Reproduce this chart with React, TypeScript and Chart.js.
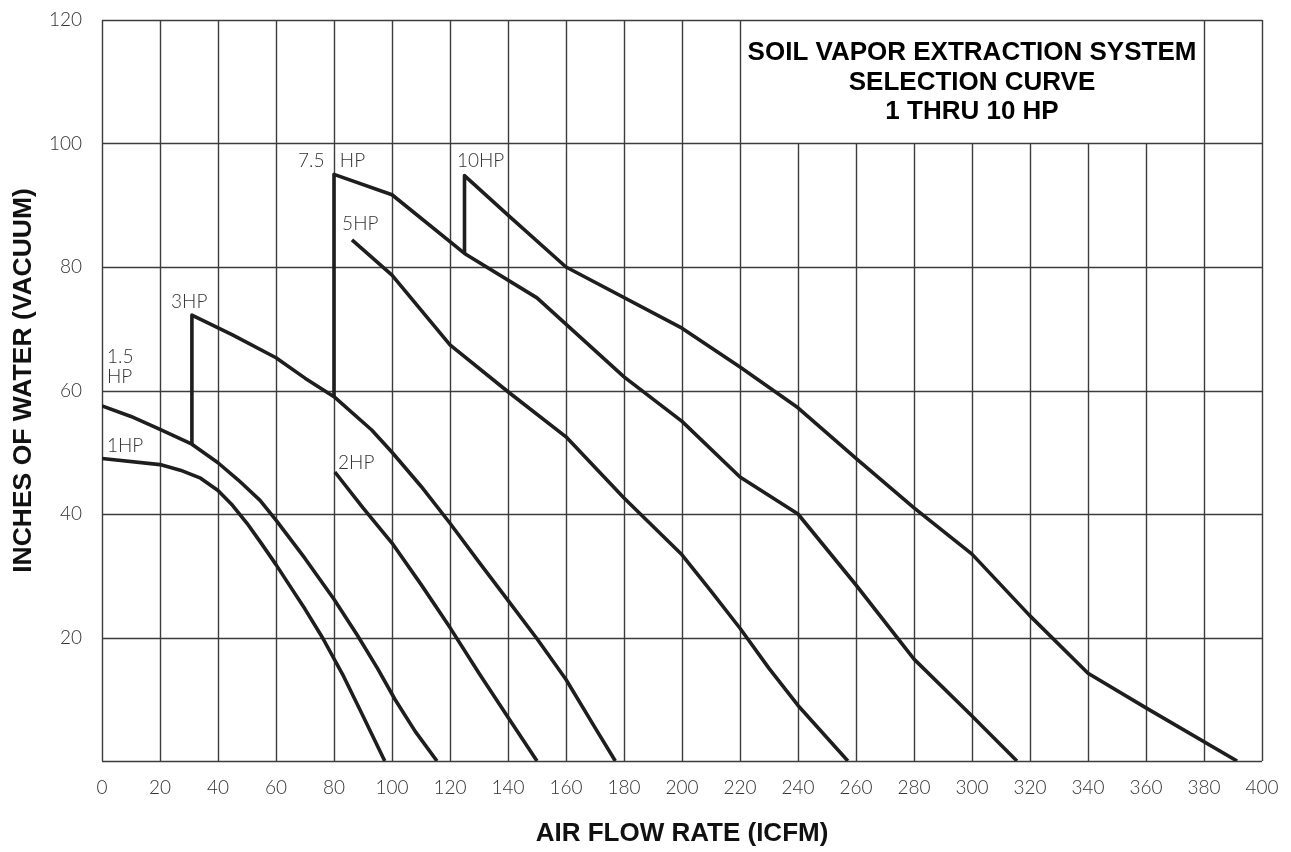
import React, { useEffect, useRef } from "react";
import { Chart, registerables } from "chart.js";

Chart.register(...registerables);

// Axis ticks
const FLOW_TICKS = [0, 20, 40, 60, 80, 100, 120, 140, 160, 180, 200, 220, 240, 260, 280, 300, 320, 340, 360, 380, 400];
const VAC_TICKS = [0, 20, 40, 60, 80, 100, 120];

// Title box (in data units)
const BOX_FLOW = [220, 380];
const BOX_VAC = [100, 120];
const TITLE_LINES = ["SOIL VAPOR EXTRACTION SYSTEM", "SELECTION CURVE", "1 THRU 10 HP"];
const Y_TITLE = "INCHES OF WATER (VACUUM)";
const X_TITLE = "AIR FLOW RATE (ICFM)";

// Curves: [air flow (ICFM), inches of water]
const HP1 = [[0, 49], [20, 48], [27, 47.1], [34, 45.8], [40, 43.8], [45, 41.4], [50, 38.5], [55, 35.2], [60, 31.8], [65, 28.2], [70, 24.6], [76, 20], [83, 14], [90, 7.3], [97.5, 0]];
const HP1_5 = [[0, 57.5], [10, 55.8], [20, 53.7], [31, 51.3], [40, 48.3], [47, 45.5], [54.5, 42.2], [60, 39], [70, 32.8], [80, 26.2], [88, 20.4], [95, 15], [101, 10], [108, 4.8], [115.5, 0]];
const HP3 = [[31, 51.3], [31, 72.2], [45, 69], [60, 65.3], [70, 62], [80, 59], [93, 53.6], [100, 50], [110, 44.5], [120, 38.5], [130, 32.2], [140, 26], [150, 19.8], [160, 13.2], [170, 5.4], [177, 0]];
const HP2 = [[80.3, 46.8], [90, 41], [100, 35.3], [110, 28.6], [120, 21.6], [130, 14.2], [140, 7.1], [150, 0]];
const HP5 = [[86.2, 84.4], [100, 78.7], [120, 67.4], [140, 59.8], [160, 52.5], [180, 42.6], [200, 33.4], [210, 27.5], [220, 21.5], [230, 15], [240, 9], [257.2, 0]];
const HP7_5 = [[80, 59], [80, 95], [100, 91.7], [125, 82.2], [150, 75], [180, 62.2], [200, 55], [220, 46], [240, 40], [260, 28.5], [280, 16.5], [300, 7.3], [315.5, 0]];
const HP10 = [[125, 82.2], [125, 94.8], [140, 88.4], [160, 80], [200, 70.1], [220, 63.8], [240, 57.2], [260, 49], [280, 41], [300, 33.5], [320, 23.5], [340, 14.2], [360, 8.6], [391.4, 0]];

const SERIES = [
  { name: "1HP", pts: HP1 },
  { name: "1.5HP", pts: HP1_5 },
  { name: "3HP", pts: HP3 },
  { name: "2HP", pts: HP2 },
  { name: "5HP", pts: HP5 },
  { name: "7.5HP", pts: HP7_5 },
  { name: "10HP", pts: HP10 },
];

// Curve labels: [text, flow, vacuum] (left edge, vertical middle)
const CURVE_LABELS: [string, number, number][] = [
  ["1.5", 1.7, 65.5],
  ["HP", 1.7, 62.2],
  ["1HP", 1.7, 51.1],
  ["3HP", 23.8, 74.3],
  ["2HP", 81.4, 48.3],
  ["5HP", 82.8, 87],
  ["7.5", 67.6, 97.2],
  ["HP", 82, 97.2],
  ["10HP", 122.4, 97.2],
];

const TICK_FONT = "Lato";
const BOLD_FONT = "'Liberation Sans', Arial, sans-serif";

const gridPlugin = {
  id: "customGrid",
  beforeDatasetsDraw(chart: any) {
    const { ctx, chartArea, scales } = chart;
    const xs = scales.x;
    const ys = scales.y;
    ctx.save();
    ctx.strokeStyle = "#3c3c3c";
    ctx.lineWidth = 1.4;
    const boxTop = ys.getPixelForValue(BOX_VAC[0]);
    FLOW_TICKS.forEach((v) => {
      const px = Math.round(xs.getPixelForValue(v)) + 0.5;
      const top = v > BOX_FLOW[0] && v < BOX_FLOW[1] ? boxTop : chartArea.top;
      ctx.beginPath();
      ctx.moveTo(px, top);
      ctx.lineTo(px, chartArea.bottom);
      ctx.stroke();
    });
    VAC_TICKS.forEach((v) => {
      const py = Math.round(ys.getPixelForValue(v)) + 0.5;
      ctx.beginPath();
      ctx.moveTo(chartArea.left, py);
      ctx.lineTo(chartArea.right, py);
      ctx.stroke();
    });
    ctx.restore();
  },
  afterDatasetsDraw(chart: any) {
    const { ctx, scales, chartArea } = chart;
    const xs = scales.x;
    const ys = scales.y;
    ctx.save();
    ctx.fillStyle = "#333";
    ctx.font = `300 19px ${TICK_FONT}`;
    ctx.textAlign = "left";
    ctx.textBaseline = "middle";
    CURVE_LABELS.forEach(([t, fx, vy]) => {
      ctx.fillText(t, xs.getPixelForValue(fx), ys.getPixelForValue(vy));
    });
    // title in box
    const cx = (xs.getPixelForValue(BOX_FLOW[0]) + xs.getPixelForValue(BOX_FLOW[1])) / 2;
    const top = ys.getPixelForValue(BOX_VAC[1]);
    ctx.fillStyle = "#000";
    ctx.font = `bold 26px ${BOLD_FONT}`;
    ctx.textAlign = "center";
    const offs = [33, 63, 92];
    TITLE_LINES.forEach((t, i) => ctx.fillText(t, cx, top + offs[i]));
    // y axis title
    ctx.fillStyle = "#111";
    ctx.font = `bold 26.5px ${BOLD_FONT}`;
    ctx.translate(24, (chartArea.top + chartArea.bottom) / 2 - 10);
    ctx.rotate(-Math.PI / 2);
    ctx.fillText(Y_TITLE, 0, 0);
    ctx.restore();
  },
};

export default function App() {
  const ref = useRef<HTMLCanvasElement>(null);
  useEffect(() => {
    document.body.style.margin = "0";
    const chart = new Chart(ref.current!, {
      type: "scatter",
      data: {
        datasets: SERIES.map((s) => ({
          label: s.name,
          data: s.pts.map(([x, y]) => ({ x, y })),
          showLine: true,
          borderColor: "#1e1e1e",
          borderWidth: 3.6,
          pointRadius: 0,
          pointHoverRadius: 0,
          tension: 0,
          borderJoinStyle: "round" as const,
          borderCapStyle: "butt" as const,
        })),
      },
      options: {
        animation: false,
        responsive: false,
        events: [],
        layout: { padding: { top: 20, right: 29, left: 0, bottom: 0 } },
        plugins: { legend: { display: false }, tooltip: { enabled: false } },
        scales: {
          x: {
            type: "linear",
            min: 0,
            max: 400,
            afterFit: (s: any) => { s.height = 91; s.paddingLeft = 0; s.paddingRight = 0; },
            afterBuildTicks: (s: any) => { s.ticks = FLOW_TICKS.map((v) => ({ value: v })); },
            grid: { display: false, drawTicks: false },
            border: { display: false },
            ticks: { autoSkip: false, maxRotation: 0, padding: 15, color: "#333", font: { family: TICK_FONT, size: 19, weight: "300" } },
            title: { display: true, text: X_TITLE, color: "#111", padding: { top: 0, bottom: 3 }, font: { family: BOLD_FONT, size: 26, weight: "bold" } },
          },
          y: {
            type: "linear",
            min: 0,
            max: 120,
            afterFit: (s: any) => { s.width = 102; s.paddingTop = 0; s.paddingBottom = 0; },
            afterBuildTicks: (s: any) => { s.ticks = VAC_TICKS.map((v) => ({ value: v })); },
            grid: { display: false, drawTicks: false },
            border: { display: false },
            ticks: { padding: 20, color: "#333", font: { family: TICK_FONT, size: 19, weight: "300" }, callback: (v: any) => (v === 0 ? "" : String(v)) },
            title: { display: false },
          },
        },
      },
      plugins: [gridPlugin],
    });
    return () => chart.destroy();
  }, []);
  return (
    <div style={{ position: "absolute", left: 0, top: 0, width: 1291, height: 852, background: "#fff" }}>
      <canvas ref={ref} width={1291} height={852} style={{ display: "block" }} />
    </div>
  );
}
